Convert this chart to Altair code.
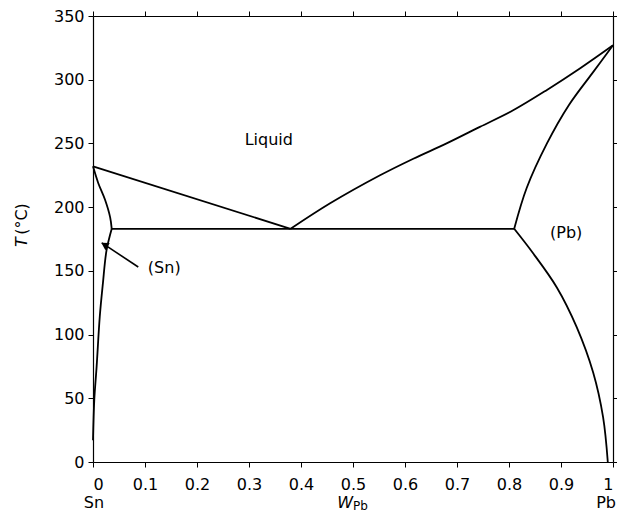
import altair as alt
import pandas as pd

# ---- data ----
liq_left_w = [0.0, 0.38]
liq_left_T = [232, 183]

liq_right_w = [0.38, 0.456, 0.552, 0.616, 0.68, 0.744, 0.808, 0.873, 0.937, 1.00]
liq_right_T = [183, 203, 225, 238, 250, 263, 276, 292, 309, 327]

sol_pb_w = [0.81, 0.834, 0.873, 0.915, 0.96, 1.00]
sol_pb_T = [183, 215, 250, 280, 305, 327]

solv_pb_w = [0.81, 0.846, 0.892, 0.93, 0.962, 0.981, 0.99]
solv_pb_T = [183, 164, 137, 106, 70, 35, 0]

sol_sn_w = [0.0, 0.010, 0.023, 0.033, 0.036]
sol_sn_T = [232, 219, 206, 192, 183]

solv_sn_w = [0.036, 0.026, 0.019, 0.013, 0.007, 0.0025, 0.0]
solv_sn_T = [183, 166, 140, 114, 75, 49, 17]

eut_w = [0.036, 0.81]
eut_T = [183, 183]

arrow_w = [0.087, 0.017]
arrow_T = [153, 172]

labels_txt = ["Liquid", "(Pb)", "(Sn)"]
labels_w = [0.338, 0.91, 0.137]
labels_T = [253, 180, 152]

x_ticks = [0, 0.1, 0.2, 0.3, 0.4, 0.5, 0.6, 0.7, 0.8, 0.9, 1]
y_ticks = [0, 50, 100, 150, 200, 250, 300, 350]

# ---- build tables ----
rows = []
for name, ws, ts in [("liqL", liq_left_w, liq_left_T), ("liqR", liq_right_w, liq_right_T),
                     ("solPb", sol_pb_w, sol_pb_T), ("solvPb", solv_pb_w, solv_pb_T),
                     ("solSn", sol_sn_w, sol_sn_T), ("solvSn", solv_sn_w, solv_sn_T),
                     ("eut", eut_w, eut_T)]:
    for i, (w, t) in enumerate(zip(ws, ts)):
        rows.append({"seg": name, "i": i, "w": w, "T": t})
curves = pd.DataFrame(rows)

arrow = pd.DataFrame({"w": [arrow_w[0]], "T": [arrow_T[0]], "w2": [arrow_w[1]], "T2": [arrow_T[1]]})
head = pd.DataFrame({"w": [arrow_w[1] + 0.005], "T": [arrow_T[1] - 1.5]})
labels = pd.DataFrame({"txt": labels_txt, "w": labels_w, "T": labels_T})

W, H = 520, 446
FONT = "DejaVu Sans"
FS = 16

xs = alt.Scale(domain=[0, 1], nice=False, zero=False)
ys = alt.Scale(domain=[0, 350], nice=False)

ax_common = dict(grid=False, domainColor="black", tickColor="black", tickSize=5,
                 labelFont=FONT, labelFontSize=FS, labelColor="black", domainWidth=1.2)

x_axis = alt.Axis(values=x_ticks, format="~g", title=None, labelPadding=9, **ax_common)
y_axis = alt.Axis(values=y_ticks, title=None, labelPadding=4, **ax_common)


def X(f="w:Q"):
    return alt.X(f, scale=xs, axis=None)


def Y(f="T:Q"):
    return alt.Y(f, scale=ys, axis=None)


lines = alt.Chart(curves).mark_line(color="black", strokeWidth=1.8, interpolate="catmull-rom").encode(
    x=alt.X("w:Q", scale=xs, axis=x_axis),
    y=alt.Y("T:Q", scale=ys, axis=y_axis),
    detail="seg:N",
    order="i:Q",
)

# top / right axes (ticks only)
frame = alt.Chart(curves).mark_line(opacity=0).encode(
    x=alt.X("w:Q", scale=xs, axis=alt.Axis(orient="top", values=x_ticks, labels=False, title=None, **ax_common)),
    y=alt.Y("T:Q", scale=ys, axis=alt.Axis(orient="right", values=y_ticks, labels=False, title=None, **ax_common)),
    detail="seg:N",
)

arrow_line = alt.Chart(arrow).mark_rule(color="black", strokeWidth=1.6).encode(
    x=X(), y=Y(), x2="w2:Q", y2="T2:Q"
)
arrow_head = alt.Chart(head).mark_point(shape="triangle-up", filled=True, color="black",
                                        size=70, angle=301, opacity=1).encode(x=X(), y=Y())

text = alt.Chart(labels).mark_text(font=FONT, fontSize=FS, color="black").encode(
    x=X(), y=Y(), text="txt:N"
)

# y-axis title: italic T + (°C)
ttl_T = alt.Chart(pd.DataFrame({"txt": ["T"]})).mark_text(
    font=FONT, fontSize=FS, fontStyle="italic", color="black", angle=270, baseline="middle", align="center"
).encode(x=alt.value(-71), y=alt.value(226), text="txt:N")
ttl_C = alt.Chart(pd.DataFrame({"txt": ["(°C)"]})).mark_text(
    font=FONT, fontSize=FS, color="black", angle=270, baseline="middle", align="center"
).encode(x=alt.value(-71), y=alt.value(203), text="txt:N")

sn_txt = alt.Chart(pd.DataFrame({"w": [0.0], "txt": ["Sn"]})).mark_text(
    font=FONT, fontSize=FS, color="black", baseline="middle", dx=1
).encode(x=X(), y=alt.value(H + 41), text="txt:N")
pb_txt = alt.Chart(pd.DataFrame({"w": [1.0], "txt": ["Pb"]})).mark_text(
    font=FONT, fontSize=FS, color="black", baseline="middle", align="right", dx=3
).encode(x=X(), y=alt.value(H + 41), text="txt:N")
wlab = alt.Chart(pd.DataFrame({"w": [0.498], "txt": ["W"]})).mark_text(
    font=FONT, fontSize=FS, fontStyle="italic", color="black", baseline="middle", align="right", dx=1
).encode(x=X(), y=alt.value(H + 41), text="txt:N")
pblab = alt.Chart(pd.DataFrame({"w": [0.498], "txt": ["Pb"]})).mark_text(
    font=FONT, fontSize=12, color="black", baseline="middle", align="left", dx=1
).encode(x=X(), y=alt.value(H + 44), text="txt:N")

chart = alt.layer(lines, frame, arrow_line, arrow_head, text, ttl_T, ttl_C,
                  sn_txt, pb_txt, wlab, pblab).resolve_axis(
    x="independent", y="independent"
).properties(
    width=W, height=H,
    autosize=alt.AutoSizeParams(type="none"),
    padding={"left": 85, "top": 8, "right": 4, "bottom": 51},
).configure_view(stroke=None)

chart.save("out.html", embed_options={"renderer": "svg", "actions": False})
